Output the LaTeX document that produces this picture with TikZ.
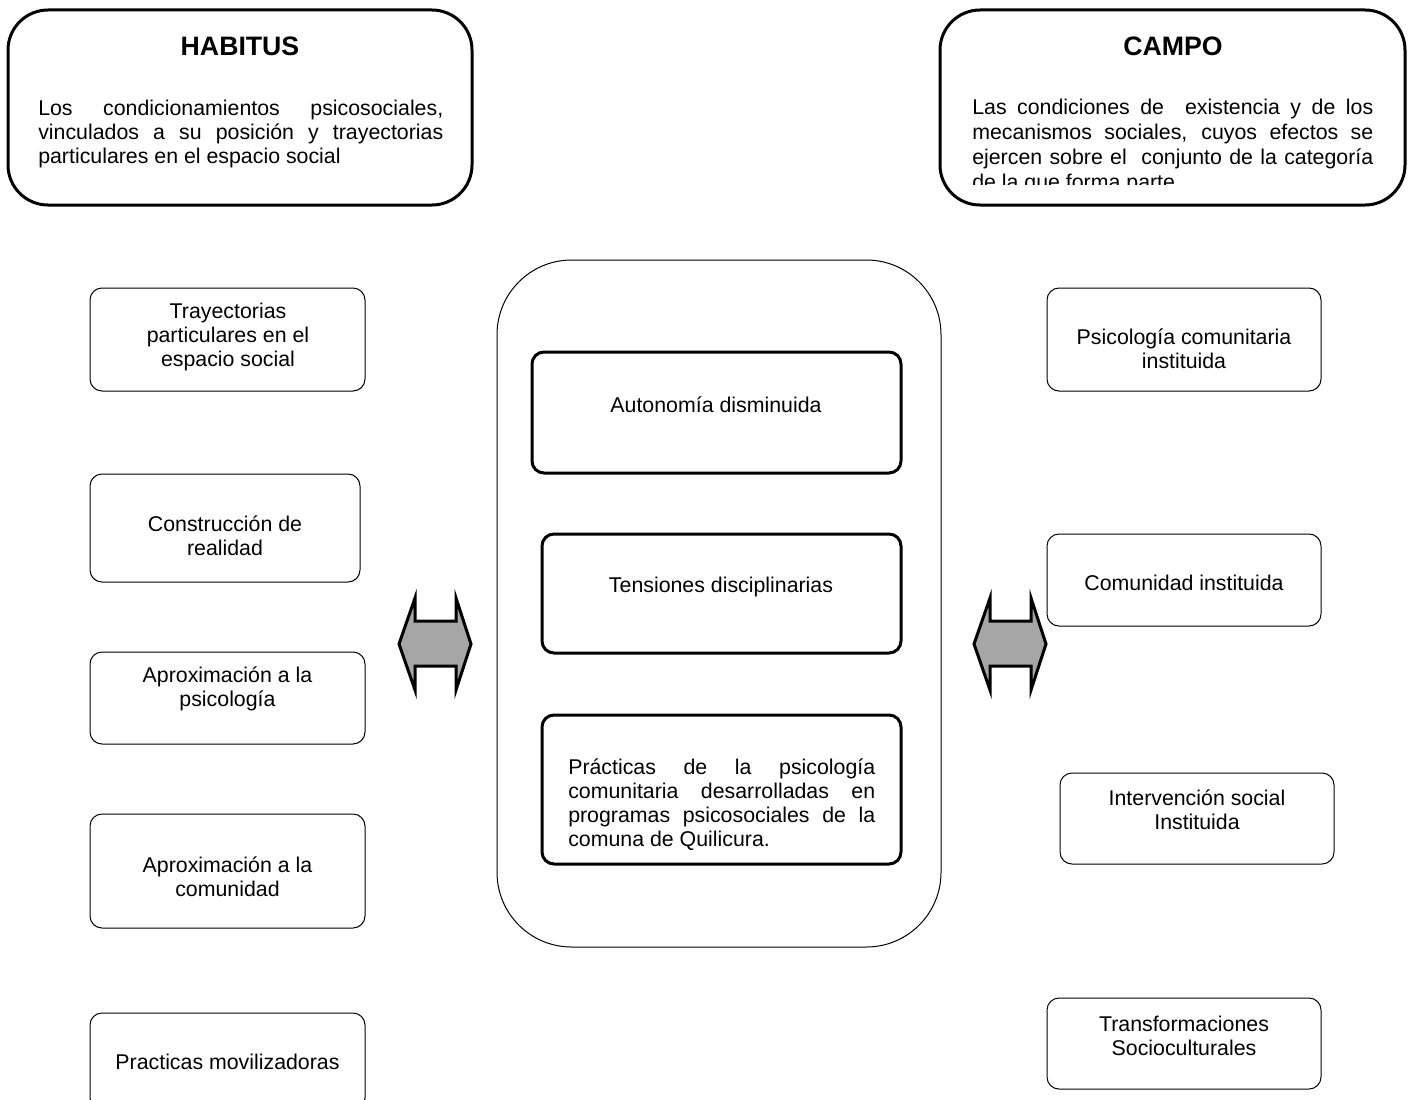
\documentclass[tikz,border=0pt]{standalone}
\usepackage{fontspec}
\setmainfont{Liberation Sans}
\newcommand{\jl}[2]{\makebox[#1][s]{#2}}
\tikzset{
  every node/.style={font=\fontsize{16}{18}\selectfont, inner sep=0pt},
  bigbox/.style={draw, line width=2.25pt, rounded corners=30pt},
  thickbox/.style={draw, line width=2.25pt, rounded corners=9pt},
  thinbox/.style={draw, line width=0.75pt, rounded corners=9pt},
  titletxt/.style={font=\fontsize{20}{24}\selectfont\bfseries},
  txt/.style={align=center},
  bodytxt/.style={align=left, anchor=west},
  arrowshape/.style={draw, line width=2.25pt, fill=black!35, line join=miter, miter limit=12}
}
\begin{document}
\begin{tikzpicture}[x=0.75pt, y=-0.75pt]
\useasboundingbox (0,0) rectangle (1413,1099);
\clip (0,0) rectangle (1413,1099);
\fill[white] (0,0) rectangle (1413,1099);

% top boxes
\node[bigbox, minimum width=348pt, minimum height=146.25pt] (H) at (240,107.5) {};
\node[titletxt] (HT) at (240,46) {HABITUS};
\node[bodytxt] (HB) at (38,133.5) {\jl{303.75pt}{Los condicionamientos psicosociales,}\\
\jl{303.75pt}{vinculados a su posición y trayectorias}\\
particulares en el espacio social};

\node[bigbox, minimum width=348.75pt, minimum height=146.25pt] (C) at (1172.5,107.5) {};
\node[titletxt] (CT) at (1173,46) {CAMPO};
\begin{scope}
\clip (960,60) rectangle (1395,184);
\node[bodytxt, font=\fontsize{16}{18.75}\selectfont] (CB) at (972,146) {\jl{300.75pt}{Las condiciones de \ existencia y de los}\\
\jl{300.75pt}{mecanismos sociales, cuyos efectos se}\\
\jl{300.75pt}{ejercen sobre el \ conjunto de la categoría}\\
de la que forma parte};
\end{scope}

% central container
\node[draw, line width=0.75pt, rounded corners=56pt, minimum width=333pt, minimum height=515.25pt] (M) at (719,603.5) {};
\node[thickbox, minimum width=276.75pt, minimum height=90.75pt] (M1) at (716.5,412.5) {};
\node (TM1) at (716,405) {Autonomía disminuida};
\node[thickbox, minimum width=269.25pt, minimum height=89.25pt] (M2) at (721.5,593.5) {};
\node (TM2) at (721,587) {Tensiones disciplinarias};
\node[thickbox, minimum width=269.25pt, minimum height=111.75pt] (M3) at (721.5,789.5) {};
\node[bodytxt] (TM3) at (568,805) {\jl{230.25pt}{Prácticas de la psicología}\\
\jl{230.25pt}{comunitaria desarrolladas en}\\
\jl{230.25pt}{programas psicosociales de la}\\
comuna de Quilicura.};

% left boxes
\node[thinbox, minimum width=206.25pt, minimum height=77.25pt] (L1) at (227.5,339.5) {};
\node[txt] (TL1) at (228,337) {Trayectorias\\particulares en el\\espacio social};
\node[thinbox, minimum width=202.5pt, minimum height=81pt] (L2) at (225,528) {};
\node[txt] (TL2) at (225,536) {Construcción de\\realidad};
\node[thinbox, minimum width=206.25pt, minimum height=69pt] (L3) at (227.5,698) {};
\node[txt] (TL3) at (227.5,689) {Aproximación a la\\psicología};
\node[thinbox, minimum width=206.25pt, minimum height=85.5pt] (L4) at (227.5,871) {};
\node[txt] (TL4) at (227.5,877) {Aproximación a la\\comunidad};
\node[thinbox, minimum width=206.25pt, minimum height=72.75pt] (L5) at (227.5,1061.5) {};
\node (TL5) at (227.5,1062) {Practicas movilizadoras};

% right boxes
\node[thinbox, minimum width=205.5pt, minimum height=77.25pt] (R1) at (1184,339.5) {};
\node[txt] (TR1) at (1184,349) {Psicología comunitaria\\instituida};
\node[thinbox, minimum width=205.5pt, minimum height=69pt] (R2) at (1184,580) {};
\node (TR2) at (1184,583) {Comunidad instituida};
\node[thinbox, minimum width=205.5pt, minimum height=68.25pt] (R3) at (1197,818.5) {};
\node[txt] (TR3) at (1197,810) {Intervención social\\Instituida};
\node[thinbox, minimum width=205.5pt, minimum height=68.25pt] (R4) at (1184,1043.5) {};
\node[txt] (TR4) at (1184,1036) {Transformaciones\\Socioculturales};

% double arrows
\draw[arrowshape] (399,644) -- (415,598) -- (415,621) -- (456,621) -- (456,598) -- (471,644)
  -- (456,690) -- (456,666) -- (415,666) -- (415,690) -- cycle;
\begin{scope}[xshift=575*0.75pt]
\draw[arrowshape] (399,644) -- (415,598) -- (415,621) -- (456,621) -- (456,598) -- (471,644)
  -- (456,690) -- (456,666) -- (415,666) -- (415,690) -- cycle;
\end{scope}
\end{tikzpicture}
\end{document}
